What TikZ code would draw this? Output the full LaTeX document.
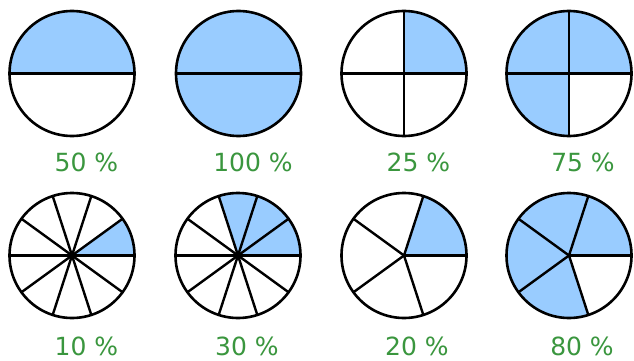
\documentclass[tikz,border=0pt]{standalone}
\usepackage{fontspec}
\setsansfont{DejaVu Sans}
\usetikzlibrary{calc, positioning}

\definecolor{partblue}{RGB}{153,204,255}
\definecolor{labelgreen}{RGB}{58,150,62}

\tikzset{
    piepart/.style={fill=partblue},
    spoke/.style={draw=black, line width=2.4pt},
    rim/.style={draw=black, line width=2.6pt},
    pctlabel/.style={text=labelgreen, anchor=base, font=\sffamily\fontsize{25}{25}\selectfont}
}

\begin{document}
\begin{tikzpicture}[x=1pt, y=1pt]
    \useasboundingbox (0,0) rectangle (634,-361);

    % Centres of the circles, top row then bottom row
    \coordinate (c1) at (72,-73.5);
    \coordinate (c2) at (238.5,-73.5);
    \coordinate (c3) at (404,-73.5);
    \coordinate (c4) at (569,-73.5);
    \coordinate (c5) at (72,-255.5);
    \coordinate (c6) at (238,-255.5);
    \coordinate (c7) at (404,-255.5);
    \coordinate (c8) at (569,-255.5);

    % Shaded parts
    \fill[piepart] (c1) -- ++(0:62.5) arc[start angle=0, end angle=180, radius=62.5] -- cycle;
    \fill[piepart] (c2) circle (62.5);
    \fill[piepart] (c3) -- ++(0:62.5) arc[start angle=0, end angle=90, radius=62.5] -- cycle;
    \fill[piepart] (c4) -- ++(0:62.5) arc[start angle=0, end angle=270, radius=62.5] -- cycle;
    \fill[piepart] (c5) -- ++(0:62.5) arc[start angle=0, end angle=36, radius=62.5] -- cycle;
    \fill[piepart] (c6) -- ++(0:62.5) arc[start angle=0, end angle=108, radius=62.5] -- cycle;
    \fill[piepart] (c7) -- ++(0:62.5) arc[start angle=0, end angle=72, radius=62.5] -- cycle;
    \fill[piepart] (c8) -- ++(0:62.5) arc[start angle=0, end angle=288, radius=62.5] -- cycle;

    % Dividing lines
    \draw[spoke] ($(c1)+(-62.5,0)$) -- ++(125,0);
    \draw[spoke] ($(c2)+(-62.5,0)$) -- ++(125,0);
    \foreach \a in {0,90,180,270} {
        \draw[spoke] (c3) -- ++(\a:62.5);
        \draw[spoke] (c4) -- ++(\a:62.5);
    }
    \foreach \a in {0,36,...,324} {
        \draw[spoke] (c5) -- ++(\a:62.5);
        \draw[spoke] (c6) -- ++(\a:62.5);
    }
    \foreach \a in {0,72,...,288} {
        \draw[spoke] (c7) -- ++(\a:62.5);
        \draw[spoke] (c8) -- ++(\a:62.5);
    }
    \fill (c5) circle (3.5);
    \fill (c6) circle (3.5);
    \fill (c7) circle (1.8);
    \fill (c8) circle (1.8);

    % Outlines
    \foreach \c in {c1,c2,c3,c4,c5,c6,c7,c8}
        \draw[rim] (\c) circle (62.5);

    % Labels
    \node[pctlabel] (p50) at (86.5,-171) {50 \%};
    \node[pctlabel] (p100) at (253,-171) {100 \%};
    \node[pctlabel] (p25) at (418.5,-171) {25 \%};
    \node[pctlabel] (p75) at (583,-171) {75 \%};
    \node[pctlabel] (p10) at (86.5,-355) {10 \%};
    \node[pctlabel] (p30) at (247,-355) {30 \%};
    \node[pctlabel] (p20) at (417,-355) {20 \%};
    \node[pctlabel] (p80) at (582,-355) {80 \%};
\end{tikzpicture}
\end{document}
